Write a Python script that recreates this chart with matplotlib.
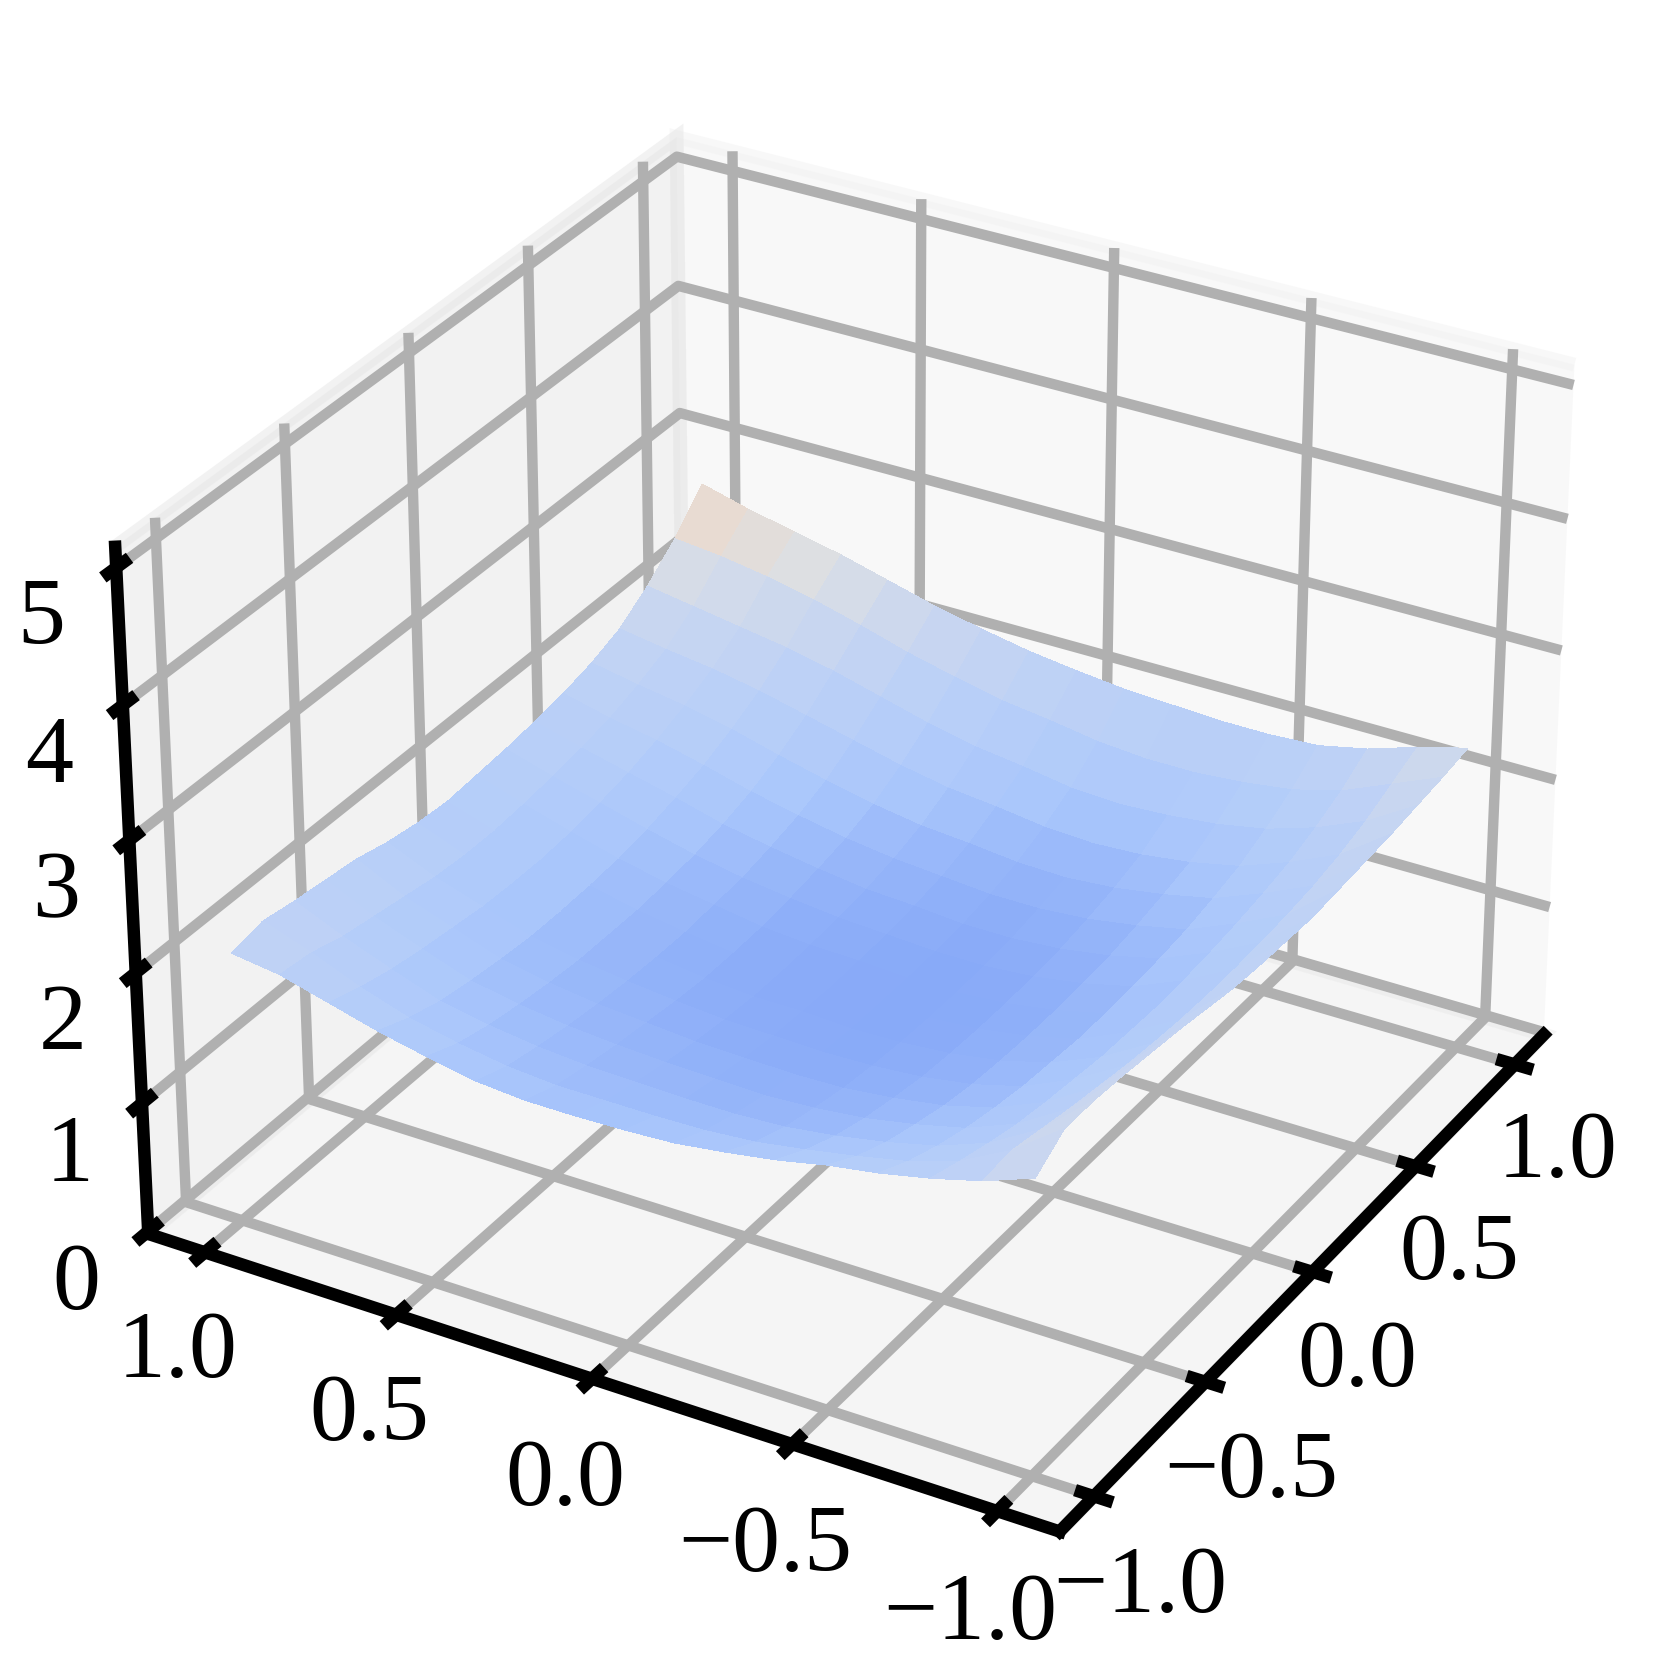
import numpy as np
import matplotlib
matplotlib.use("Agg")
import matplotlib.pyplot as plt
from matplotlib.colors import LinearSegmentedColormap

plt.rcParams['font.family'] = ['Liberation Serif', 'DejaVu Serif']

x_ticks = [-1.0, -0.5, 0.0, 0.5, 1.0]
y_ticks = [-1.0, -0.5, 0.0, 0.5, 1.0]
z_ticks = [0, 1, 2, 3, 4, 5]

# surface heights, rows are y (-1 to 1), columns are x (-1 to 1)
x = [-1.0, -0.875, -0.75, -0.625, -0.5, -0.375, -0.25, -0.125, 0.0, 0.125, 0.25, 0.375, 0.5, 0.625, 0.75, 0.875, 1.0]
y = [-1.0, -0.875, -0.75, -0.625, -0.5, -0.375, -0.25, -0.125, 0.0, 0.125, 0.25, 0.375, 0.5, 0.625, 0.75, 0.875, 1.0]
z = [
    [2.22, 2.38, 2.38, 2.36, 2.33, 2.30, 2.26, 2.22, 2.20, 2.19, 2.18, 2.20, 2.22, 2.24, 2.27, 2.30, 2.34],
    [2.08, 2.10, 2.05, 2.00, 1.96, 1.92, 1.89, 1.87, 1.86, 1.86, 1.87, 1.89, 1.92, 1.97, 2.04, 2.14, 2.24],
    [1.98, 1.90, 1.83, 1.77, 1.73, 1.70, 1.67, 1.66, 1.65, 1.66, 1.68, 1.71, 1.75, 1.80, 1.88, 1.98, 2.12],
    [1.90, 1.78, 1.69, 1.62, 1.57, 1.53, 1.51, 1.49, 1.49, 1.50, 1.52, 1.55, 1.60, 1.66, 1.76, 1.88, 2.04],
    [1.84, 1.70, 1.60, 1.53, 1.47, 1.43, 1.41, 1.40, 1.40, 1.41, 1.43, 1.47, 1.52, 1.58, 1.69, 1.83, 2.02],
    [1.76, 1.63, 1.53, 1.46, 1.41, 1.37, 1.35, 1.34, 1.34, 1.35, 1.37, 1.41, 1.46, 1.53, 1.65, 1.80, 2.02],
    [1.70, 1.57, 1.48, 1.42, 1.37, 1.34, 1.32, 1.31, 1.31, 1.32, 1.34, 1.38, 1.43, 1.51, 1.63, 1.80, 2.04],
    [1.65, 1.54, 1.46, 1.40, 1.36, 1.33, 1.31, 1.31, 1.31, 1.32, 1.34, 1.38, 1.44, 1.53, 1.65, 1.83, 2.06],
    [1.63, 1.53, 1.46, 1.41, 1.37, 1.34, 1.33, 1.32, 1.33, 1.34, 1.37, 1.41, 1.48, 1.58, 1.71, 1.89, 2.10],
    [1.62, 1.53, 1.47, 1.42, 1.38, 1.35, 1.33, 1.33, 1.34, 1.36, 1.39, 1.44, 1.51, 1.62, 1.76, 1.94, 2.15],
    [1.62, 1.53, 1.48, 1.44, 1.41, 1.38, 1.36, 1.36, 1.37, 1.40, 1.44, 1.49, 1.57, 1.69, 1.84, 2.02, 2.22],
    [1.65, 1.56, 1.51, 1.47, 1.44, 1.42, 1.41, 1.41, 1.43, 1.45, 1.50, 1.56, 1.65, 1.78, 1.94, 2.11, 2.30],
    [1.72, 1.62, 1.56, 1.52, 1.49, 1.47, 1.47, 1.47, 1.49, 1.52, 1.57, 1.64, 1.74, 1.87, 2.04, 2.22, 2.40],
    [1.80, 1.70, 1.63, 1.59, 1.56, 1.54, 1.54, 1.55, 1.57, 1.61, 1.67, 1.74, 1.84, 1.96, 2.12, 2.32, 2.50],
    [1.90, 1.82, 1.76, 1.72, 1.69, 1.66, 1.65, 1.65, 1.67, 1.71, 1.76, 1.83, 1.92, 2.03, 2.18, 2.40, 2.58],
    [2.00, 1.97, 1.90, 1.86, 1.82, 1.78, 1.76, 1.76, 1.78, 1.81, 1.85, 1.90, 1.98, 2.08, 2.24, 2.46, 2.66],
    [2.05, 2.10, 2.06, 2.03, 2.00, 1.94, 1.90, 1.88, 1.90, 1.92, 1.95, 1.99, 2.05, 2.14, 2.30, 2.50, 2.76],
]
z_stops = [1.31, 1.60, 1.80, 2.00, 2.30, 2.45, 2.62]
colors = ['#88aaf8', '#a9c6fb', '#b4cdf9', '#bdd1f6', '#cfd9ec', '#dddfe2', '#e9dbd0']

fig = plt.figure(figsize=(16.64, 16.81), dpi=100)
ax = fig.add_axes([0.0155, 0.0225, 0.975, 0.975], projection='3d')
X, Y = np.meshgrid(x, y)
Z = np.array(z)
stops = [(v - z_stops[0]) / (z_stops[-1] - z_stops[0]) for v in z_stops]
cmap = LinearSegmentedColormap.from_list('surf', list(zip(stops, colors)))
ax.plot_surface(X, Y, Z, cmap=cmap, vmin=z_stops[0], vmax=z_stops[-1], linewidth=0, antialiased=False, rstride=1, cstride=1, shade=False)
ax.view_init(elev=30, azim=-150)
ax.set_xlim(-1.15, 1.15)
ax.set_ylim(-1.15, 1.15)
ax.set_zlim(-0.02, 5.15)
ax.set_xticks(x_ticks)
ax.set_yticks(y_ticks)
ax.set_zticks(z_ticks)
for axis in (ax.xaxis, ax.yaxis, ax.zaxis):
    axis._axinfo['grid']['color'] = '#b0b0b0'
    axis._axinfo['grid']['linewidth'] = 7.5
    axis._axinfo['axisline']['color'] = 'black'
    axis._axinfo['axisline']['linewidth'] = 9
    axis.line.set_linewidth(9)
    axis.pane.set_linewidth(10)
    axis._axinfo['tick']['linewidth'] = {True: 9, False: 9}
    axis._axinfo['tick']['inward_factor'] = 0.17
    axis._axinfo['tick']['outward_factor'] = 0.17
    axis.gridlines.set_linewidth(7.5)
ax.tick_params(labelsize=69, pad=22, width=9)
fig.savefig('out.png', dpi=100)
